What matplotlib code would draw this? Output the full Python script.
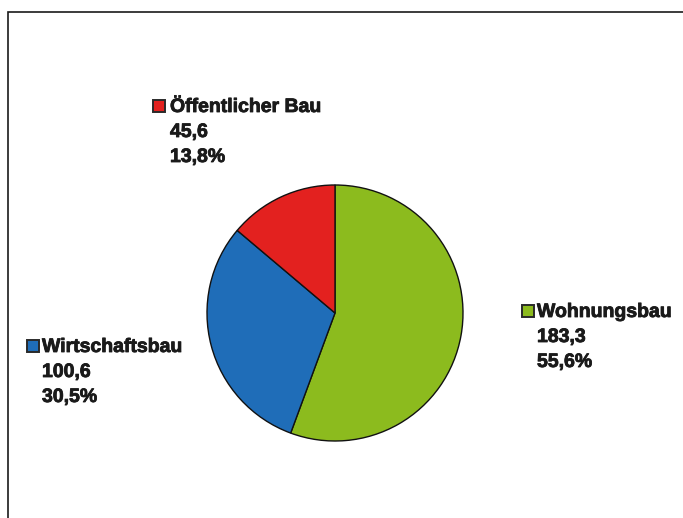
import matplotlib
matplotlib.use("Agg")
import matplotlib.pyplot as plt
import matplotlib.patheffects as pe
from matplotlib.patches import Rectangle

# Daten (Mrd. Euro)
kategorien = ['Wohnungsbau', 'Wirtschaftsbau', 'Öffentlicher Bau']
werte = [183.3, 100.6, 45.6]
anteile = [55.6, 30.5, 13.8]
farben = ['#8cbb1e', '#1f6db8', '#e3211f']

plt.rcParams['font.family'] = ['Liberation Sans', 'DejaVu Sans']

W, H = 683, 518
fig = plt.figure(figsize=(W / 100, H / 100), dpi=100)

def fx(px):
    return px / W

def fy(py):
    return 1 - py / H

# Rahmen
fig.patches.append(Rectangle((fx(7.5), fy(700)), fx(800), fy(11.5) - fy(700),
                             transform=fig.transFigure, fill=False,
                             edgecolor='#1a1a1a', linewidth=1.2))

# Kreisdiagramm: Mitte (335, 313), Radius 128 px
cx, cy, r = 335, 313, 128
ax = fig.add_axes([fx(cx - r), fy(cy + r), fx(2 * r), (2 * r) / H])
ax.pie(werte, colors=farben, startangle=90, counterclock=False,
       wedgeprops=dict(edgecolor='#111111', linewidth=1.0))
ax.set_xlim(-1, 1)
ax.set_ylim(-1, 1)
ax.set_aspect('equal')
ax.axis('off')

# Beschriftungen: (Quadrat x, Text x, Grundlinie der ersten Zeile)
pos = {
    'Wohnungsbau': (522, 537, 317),
    'Wirtschaftsbau': (27, 42, 352),
    'Öffentlicher Bau': (153, 170, 112),
}
fs = 14
zeilen_abstand = 25
dick = [pe.withStroke(linewidth=0.6, foreground='#1a1a1a')]
for name, wert, anteil, farbe in zip(kategorien, werte, anteile, farben):
    qx, tx, by = pos[name]
    fig.patches.append(Rectangle((fx(qx), fy(by)), fx(12), 12 / H,
                                 transform=fig.transFigure, facecolor=farbe,
                                 edgecolor='#2a2a2a', linewidth=1.4))
    zeilen = [name,
              f'{wert:.1f}'.replace('.', ','),
              f'{anteil:.1f}%'.replace('.', ',')]
    for i, z in enumerate(zeilen):
        fig.text(fx(tx), fy(by + i * zeilen_abstand), z, fontsize=fs,
                 fontweight='bold', color='#1a1a1a', ha='left', va='baseline',
                 path_effects=dick)

fig.savefig('out.png', dpi=100)
